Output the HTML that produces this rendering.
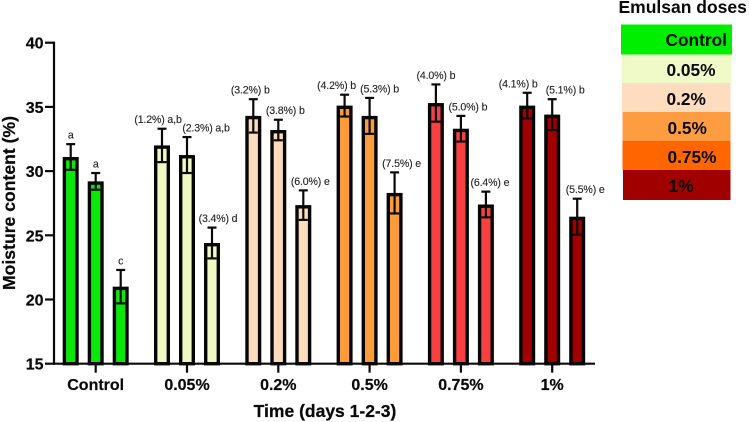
<!DOCTYPE html>
<html lang="en">
<head>
<meta charset="utf-8">
<title>Moisture content by emulsan dose</title>
<style>
html,body{margin:0;padding:0;background:#fff;width:749px;height:422px;overflow:hidden}
svg{display:block;font-family:"Liberation Sans",sans-serif;filter:blur(0.35px)}
</style>
</head>
<body>
<svg id="chart" xmlns="http://www.w3.org/2000/svg" width="749" height="422" viewBox="0 0 749 422">
  <rect x="0" y="0" width="749" height="422" fill="#fff"/>
  <g id="bars"></g>
  <g id="axes"></g>
  <text transform="translate(15,203) rotate(-90)" text-anchor="middle" font-size="17.6" font-weight="700" fill="#0a0a0a" stroke="#0a0a0a" stroke-width="0.25">Moisture content (%)</text>
  <text x="325" y="417" text-anchor="middle" font-size="17.5" font-weight="700" fill="#0a0a0a" stroke="#0a0a0a" stroke-width="0.25">Time (days 1-2-3)</text>
  <g font-weight="700" font-size="17.3" fill="#0a0a0a">
    <text x="618.5" y="13" font-size="17.5">Emulsan doses</text>
    <rect x="621" y="24.5" width="111" height="30" fill="#00ee00"/>
    <text x="665.5" y="46">Control</text>
    <rect x="621.5" y="54.5" width="110" height="29" fill="#f0fac8"/>
    <text x="666.5" y="76">0.05%</text>
    <rect x="622" y="83" width="108.5" height="29.5" fill="#fddcc0"/>
    <text x="666.5" y="105">0.2%</text>
    <rect x="622.5" y="112" width="108" height="29.5" fill="#fd9c40"/>
    <text x="667.5" y="134">0.5%</text>
    <rect x="622.5" y="141" width="108" height="29.5" fill="#ff6600"/>
    <text x="667.5" y="163">0.75%</text>
    <rect x="623" y="170" width="107.5" height="30" fill="#a00000"/>
    <text x="668.5" y="192">1%</text>
  </g>
</svg>
<script>
const categories = ['Control', '0.05%', '0.2%', '0.5%', '0.75%', '1%'];
const yTickLabels = [15, 20, 25, 30, 35, 40];
const barColors = ['#0ae80a', '#f0f9c2', '#fcdcbc', '#fa9c3a', '#f94040', '#a00000'];

const meansDay1 = [31.1, 32.0, 34.3, 35.1, 35.3, 35.1];
const meansDay2 = [29.2, 31.25, 33.2, 34.3, 33.3, 34.4];
const meansDay3 = [21.0, 24.4, 27.35, 28.3, 27.4, 26.45];

const errorsDay1 = [1.0, 1.3, 1.3, 0.85, 1.45, 1.0];
const errorsDay2 = [0.65, 1.4, 0.8, 1.4, 1.0, 1.2];
const errorsDay3 = [1.3, 1.2, 1.15, 1.6, 1.0, 1.4];

const notesDay1 = ['a', '(1.2%) a,b', '(3.2%) b', '(4.2%) b', '(4.0%) b', '(4.1%) b'];
const notesDay2 = ['a', '(2.3%) a,b', '(3.8%) b', '(5.3%) b', '(5.0%) b', '(5.1%) b'];
const notesDay3 = ['c', '(3.4%) d', '(6.0%) e', '(7.5%) e', '(6.4%) e', '(5.5%) e'];

const noteShiftDay1 = [0, -4, -3, -8, 0, -9];
const noteShiftDay2 = [0, 19, 7, 10, 7, 13];
const noteShiftDay3 = [0, 6, 7, 7, 4, 8];

const SVG_NS = 'http://www.w3.org/2000/svg';
const plotBottom = 363.7;
const plotTop = 42.7;
const axisX = 54;
const axisEnd = 595;
const yMin = 15;
const yMax = 40;

function yScale(v) {
  return plotBottom - (v - yMin) / (yMax - yMin) * (plotBottom - plotTop);
}
function groupCenter(i) {
  return 95.7 + i * 91.3;
}
function barCenter(i, day) {
  return groupCenter(i) + (day - 1) * 25;
}
function make(tag, attrs, parent) {
  const el = document.createElementNS(SVG_NS, tag);
  for (const k in attrs) el.setAttribute(k, attrs[k]);
  parent.appendChild(el);
  return el;
}

const barsLayer = document.getElementById('bars');
const axesLayer = document.getElementById('axes');
const allMeans = [meansDay1, meansDay2, meansDay3];
const allErrors = [errorsDay1, errorsDay2, errorsDay3];
const allNotes = [notesDay1, notesDay2, notesDay3];
const allShifts = [noteShiftDay1, noteShiftDay2, noteShiftDay3];

categories.forEach(function (cat, i) {
  allMeans.forEach(function (means, day) {
    const cx = barCenter(i, day);
    const top = yScale(means[i]);
    const hi = yScale(means[i] + allErrors[day][i]);
    const lo = yScale(means[i] - allErrors[day][i]);

    const bar = make('rect', {
      x: cx - 6.3, y: top + 1.7, width: 12.6, height: plotBottom - top - 1.7,
      fill: barColors[i], stroke: '#050505', 'stroke-width': 3.4
    }, barsLayer);
    
    

    const stem = make('line', {
      x1: cx, x2: cx, y1: hi, y2: lo, stroke: '#0a0a0a', 'stroke-width': 2.2
    }, barsLayer);
    
    

    const capTop = make('line', {
      x1: cx - 4.5, x2: cx + 4.5, y1: hi, y2: hi, stroke: '#0a0a0a', 'stroke-width': 2.2
    }, barsLayer);
    
    

    const capLow = make('line', {
      x1: cx - 4.5, x2: cx + 4.5, y1: lo, y2: lo, stroke: '#0a0a0a', 'stroke-width': 2.2
    }, barsLayer);
    
    

    const note = make('text', {
      x: cx + allShifts[day][i], y: hi - 5.5, 'text-anchor': 'middle',
      'font-size': 10.6, 'letter-spacing': -0.15, fill: '#222', stroke: '#222', 'stroke-width': 0.12
    }, barsLayer);
    
    
    note.textContent = allNotes[day][i];
  });

  const xTick = make('line', {
    x1: groupCenter(i), x2: groupCenter(i), y1: plotBottom, y2: plotBottom + 9,
    stroke: '#0a0a0a', 'stroke-width': 2.2
  }, axesLayer);
  
  

  const xLabel = make('text', {
    x: groupCenter(i), y: 390, 'text-anchor': 'middle',
    'font-size': 16, 'font-weight': 700, fill: '#0a0a0a', stroke: '#0a0a0a', 'stroke-width': 0.2
  }, axesLayer);
  
  
  xLabel.textContent = cat;
});

const yAxis = make('line', {
  x1: axisX, x2: axisX, y1: plotTop - 1.1, y2: plotBottom + 1.1, stroke: '#0a0a0a', 'stroke-width': 2.2
}, axesLayer);



const xAxis = make('line', {
  x1: axisX - 1, x2: axisEnd, y1: plotBottom, y2: plotBottom, stroke: '#0a0a0a', 'stroke-width': 2.2
}, axesLayer);



yTickLabels.forEach(function (t) {
  const y = yScale(t);
  const tick = make('line', {
    x1: axisX - 9, x2: axisX, y1: y, y2: y, stroke: '#0a0a0a', 'stroke-width': 2.2
  }, axesLayer);
  
  

  const label = make('text', {
    x: 43.5, y: y + 6, 'text-anchor': 'end',
    'font-size': 16, 'font-weight': 700, fill: '#0a0a0a', stroke: '#0a0a0a', 'stroke-width': 0.2
  }, axesLayer);
  
  
  label.textContent = t;
});
</script>
</body>
</html>
